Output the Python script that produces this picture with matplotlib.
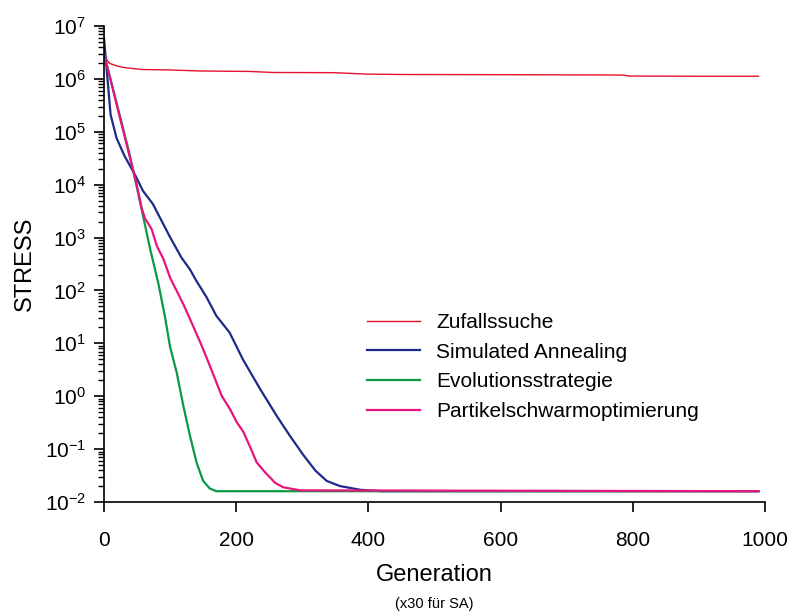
import numpy as np
import matplotlib
matplotlib.use('Agg')
import matplotlib.pyplot as plt
from matplotlib.ticker import LogLocator, FixedLocator

plt.rcParams['font.family'] = ['Liberation Sans', 'DejaVu Sans']
plt.rcParams['mathtext.default'] = 'regular'

# STRESS over generations for the four optimisers
zufall_x = [0, 5, 9, 20, 31, 59, 95, 145, 221, 256, 347, 398, 448, 600, 700, 785, 795, 900, 990]
zufall_y = [3.0e6, 2.2e6, 1.95e6, 1.75e6, 1.63e6, 1.5e6, 1.48e6, 1.41e6, 1.38e6, 1.32e6, 1.31e6,
            1.23e6, 1.21e6, 1.2e6, 1.19e6, 1.18e6, 1.13e6, 1.12e6, 1.12e6]

sa_x = [0, 10, 19, 31, 48, 59, 74, 99, 117, 130, 140, 155, 170, 190, 210, 236, 261, 281, 302,
        320, 337, 357, 388, 420, 990]
sa_y = [5.9e6, 2.1e5, 7.6e4, 3.5e4, 1.45e4, 7.6e3, 4.3e3, 1.07e3, 4.2e2, 2.5e2, 1.5e2, 75,
        33, 16, 5.0, 1.38, 0.43, 0.18, 0.076, 0.039, 0.025, 0.020, 0.017, 0.016, 0.016]

es_x = [0, 37, 44, 57, 70, 82, 92, 100, 110, 120, 130, 140, 150, 160, 170, 990]
es_y = [3.0e6, 4.6e4, 1.9e4, 3.4e3, 5.9e2, 1.4e2, 33, 8.5, 2.8, 0.66, 0.18, 0.056, 0.025,
        0.018, 0.016, 0.016]

pso_x = [0, 37, 49, 57, 62, 72, 80, 90, 100, 110, 120, 130, 148, 160, 178, 191, 201, 211,
         221, 231, 244, 259, 271, 297, 990]
pso_y = [3.0e6, 4.2e4, 1.07e4, 3.6e3, 2.3e3, 1.45e3, 6.9e2, 3.9e2, 1.74e2, 98, 55, 29, 8.9,
         3.8, 1.02, 0.56, 0.32, 0.21, 0.11, 0.056, 0.036, 0.023, 0.019, 0.0166, 0.016]

labels = ['Zufallssuche', 'Simulated Annealing', 'Evolutionsstrategie',
          'Partikelschwarmoptimierung']

fig = plt.figure(figsize=(7.92, 6.14), dpi=100)
ax = fig.add_axes([0.1313, 0.1824, 0.8347, 0.7753])

ax.plot(zufall_x, zufall_y, color='#E8102E', lw=1.0, label=labels[0])
ax.plot(sa_x, sa_y, color='#1C2A8A', lw=1.6, label=labels[1])
ax.plot(es_x, es_y, color='#0A9A44', lw=1.6, label=labels[2])
ax.plot(pso_x, pso_y, color='#E6147E', lw=1.6, label=labels[3])

ax.set_yscale('log')
ax.set_ylim(1e-2, 1e7)
ax.set_xlim(0, 1000)
ax.xaxis.set_major_locator(FixedLocator([0, 200, 400, 600, 800, 1000]))
ax.yaxis.set_major_locator(LogLocator(base=10, numticks=20))
ax.yaxis.set_minor_locator(LogLocator(base=10, subs=np.arange(2, 10), numticks=20))

for s in ['top', 'right']:
    ax.spines[s].set_visible(False)
ax.spines['left'].set_linewidth(1.2)
ax.spines['bottom'].set_linewidth(1.2)

ax.tick_params(axis='both', which='major', labelsize=15, direction='out', length=7, width=1.2)
ax.tick_params(axis='x', which='major', pad=14)
ax.tick_params(axis='y', which='major', pad=6)
ax.tick_params(axis='y', which='minor', direction='out', length=4, width=1.0)

ax.set_ylabel('STRESS', fontsize=17, labelpad=6)
ax.set_xlabel('Generation', fontsize=17, labelpad=10)
fig.text(0.548, 0.005, '(x30 für SA)', fontsize=10.5, ha='center', va='bottom')

ax.legend(loc='upper left', bbox_to_anchor=(0.4634, 0.4905), bbox_transform=fig.transFigure,
          frameon=False, fontsize=15, handlelength=2.55, handletextpad=0.77, labelspacing=0.52,
          borderpad=0, borderaxespad=0)

plt.savefig('out.png', dpi=100)
plt.close()
